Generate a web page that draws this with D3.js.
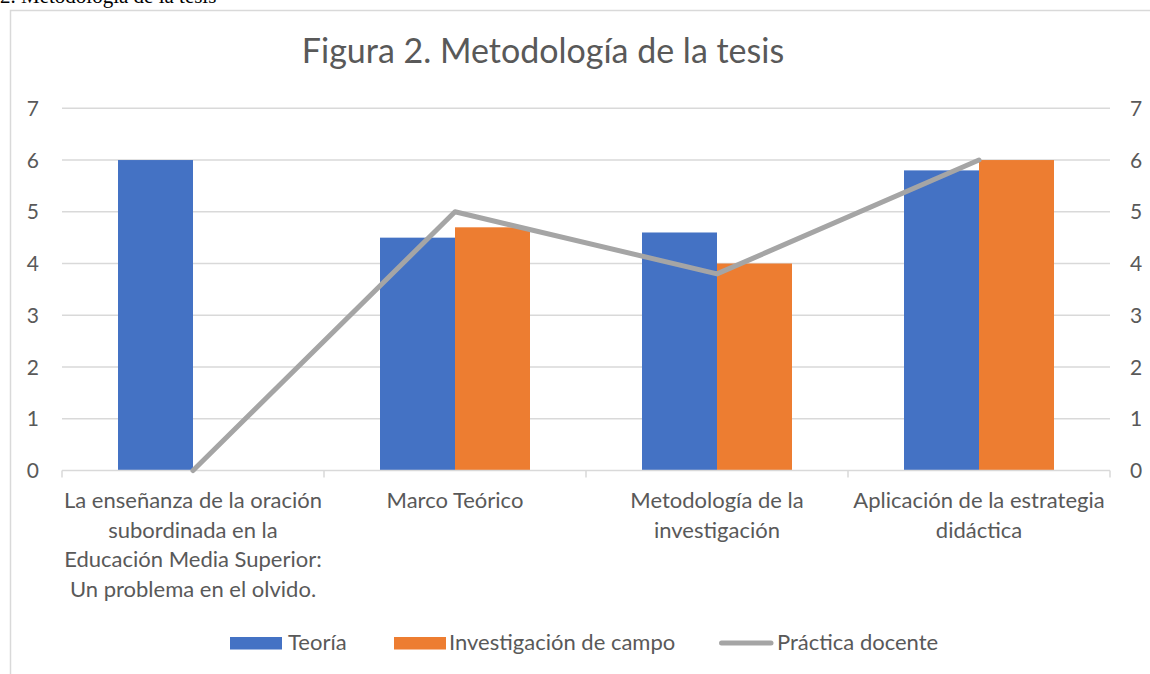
<!DOCTYPE html>
<html><head><meta charset="utf-8">
<script src="https://cdn.jsdelivr.net/npm/d3@7"></script>
<style>
html,body{margin:0;padding:0;background:#fff;overflow:hidden}
svg{display:block}
</style></head>
<body>
<svg id="c" width="1150" height="674"></svg>
<script>
const categories = [
  ["La enseñanza de la oración","subordinada en la","Educación Media Superior:","Un problema en el olvido."],
  ["Marco Teórico"],
  ["Metodología de la","investigación"],
  ["Aplicación de la estrategia","didáctica"]
];
const seriesNames = ["Teoría","Investigación de campo","Práctica docente"];
const teoria = [6, 4.5, 4.6, 5.8];
const investigacion = [null, 4.7, 4, 6];
const practica = [0, 5, 3.8, 6];
const yTicks = [0,1,2,3,4,5,6,7];
const colors = ["#4472C4","#ED7D31","#A5A5A5"];

(function(){
const svg = d3.select("#c");
const font = "Lato, 'Open Sans', sans-serif";
const txt = "#595959";

// header text (cut off at top, as in the source page)
svg.append("text").attr("x",0).attr("y",3)
  .attr("font-family","'Liberation Serif','Times New Roman',serif").attr("font-size",21)
  .attr("fill","#000").text("2. Metodología de la tesis");

// chart border
svg.append("rect").attr("x",10.5).attr("y",10.5).attr("width",1170).attr("height",700)
  .attr("fill","none").attr("stroke","#d9d9d9").attr("stroke-width",1.5);

const pLeft = 62, pRight = 1110, pTop = 108.3, pBottom = 470.5;
const idx = categories.map((d,i)=>i);
const x = d3.scaleBand().domain(idx).range([pLeft,pRight]).padding(0);
const y = d3.scaleLinear().domain([0,7]).range([pBottom,pTop]);
const groupW = x.bandwidth()*150/262;
const x1 = d3.scaleBand().domain([0,1]).range([0,groupW]).padding(0);

// gridlines
svg.append("g").selectAll("line").data(yTicks.filter(t=>t>0)).join("line")
  .attr("x1",pLeft).attr("x2",pRight).attr("y1",d=>y(d)).attr("y2",d=>y(d))
  .attr("stroke","#d9d9d9").attr("stroke-width",1.5);

// y tick labels left & right
svg.append("g").selectAll("text").data(yTicks).join("text")
  .attr("x",39).attr("y",d=>y(d)).attr("dy","0.36em").attr("text-anchor","end")
  .attr("font-family",font).attr("font-size",21).attr("fill",txt).text(d=>d);
svg.append("g").selectAll("text").data(yTicks).join("text")
  .attr("x",1130).attr("y",d=>y(d)).attr("dy","0.36em").attr("text-anchor","start")
  .attr("font-family",font).attr("font-size",21).attr("fill",txt).text(d=>d);

// bars
const barSeries = [teoria, investigacion];
barSeries.forEach((vals,s)=>{
  svg.append("g").selectAll("rect").data(vals.map((v,i)=>({v,i})).filter(d=>d.v!=null)).join("rect")
    .attr("x",d=>x(d.i)+(x.bandwidth()-groupW)/2 + x1(s))
    .attr("width",x1.bandwidth())
    .attr("y",d=>y(d.v)).attr("height",d=>y(0)-y(d.v))
    .attr("fill",colors[s]);
});

// x axis line with ticks
const axisG = svg.append("g").attr("transform",`translate(0,${pBottom})`);
axisG.append("line").attr("x1",pLeft).attr("x2",pRight).attr("stroke","#d9d9d9").attr("stroke-width",1.5);
const bounds = idx.map(i=>x(i)).concat([x(idx[idx.length-1])+x.bandwidth()]);
axisG.selectAll("line.t").data(bounds).join("line").attr("class","t")
  .attr("x1",d=>d).attr("x2",d=>d).attr("y1",0).attr("y2",7)
  .attr("stroke","#d9d9d9").attr("stroke-width",1.5);

// category labels
const catG = svg.append("g");
categories.forEach((lines,i)=>{
  const t = catG.append("text").attr("text-anchor","middle")
    .attr("font-family",font).attr("font-size",22).attr("fill",txt);
  lines.forEach((l,j)=>{
    t.append("tspan").attr("x",x(i)+x.bandwidth()/2).attr("y",508+j*29.6).text(l);
  });
});

// line series
const line = d3.line().x((d,i)=>x(i)+x.bandwidth()/2).y(d=>y(d));
svg.append("path").datum(practica).attr("d",line).attr("fill","none")
  .attr("stroke",colors[2]).attr("stroke-width",5).attr("stroke-linejoin","round").attr("stroke-linecap","round");

// title
svg.append("text").attr("x",543).attr("y",63).attr("text-anchor","middle")
  .attr("font-family",font).attr("font-size",34).attr("fill",txt)
  .text("Figura 2. Metodología de la tesis");

// legend
const legend = [
  {name:seriesNames[0], type:"rect", sx:230, tx:288},
  {name:seriesNames[1], type:"rect", sx:394, tx:449},
  {name:seriesNames[2], type:"line", sx:719, tx:777}
];
const lg = svg.append("g");
legend.forEach((d,i)=>{
  if(d.type==="rect"){
    lg.append("rect").attr("x",d.sx).attr("y",637).attr("width",52).attr("height",12.5).attr("fill",colors[i]);
  } else {
    lg.append("line").attr("x1",d.sx+2.5).attr("x2",d.sx+52).attr("y1",643).attr("y2",643)
      .attr("stroke",colors[i]).attr("stroke-width",5).attr("stroke-linecap","round");
  }
  lg.append("text").attr("x",d.tx).attr("y",650).attr("font-family",font).attr("font-size",22)
    .attr("fill",txt).text(d.name);
});
})();
</script>
</body></html>
